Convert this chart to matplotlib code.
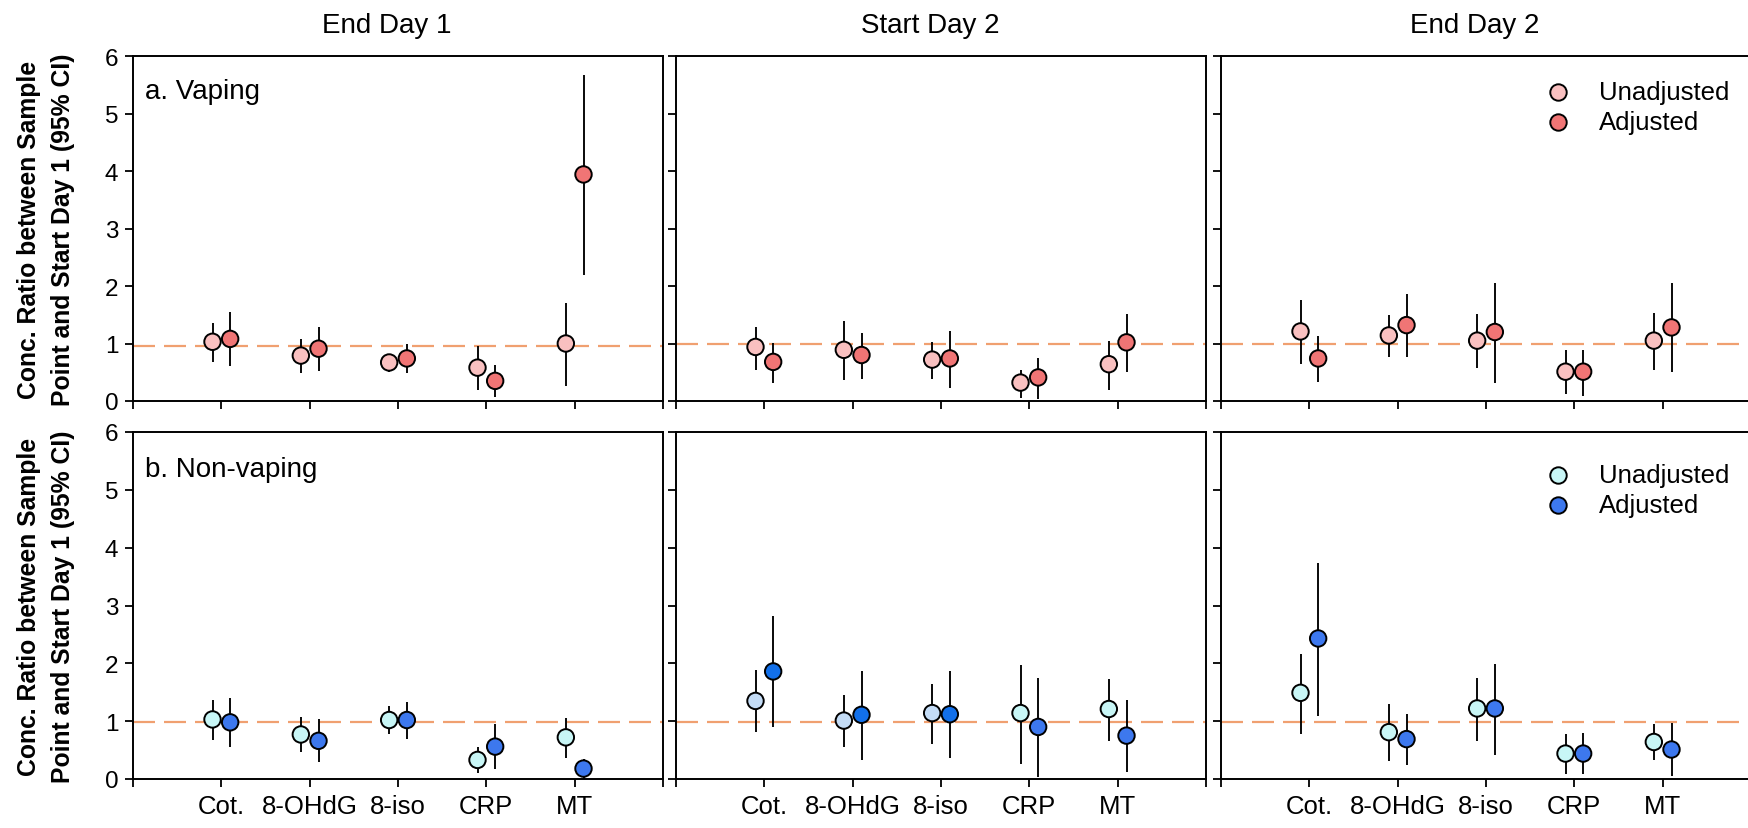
import numpy as np
import matplotlib.pyplot as plt

plt.rcParams['font.family'] = ['Liberation Sans', 'DejaVu Sans']

# categories and panels
biomarkers = ['Cot.', '8-OHdG', '8-iso', 'CRP', 'MT']
timepoints = ['End Day 1', 'Start Day 2', 'End Day 2']
row_labels = ['a. Vaping', 'b. Non-vaping']

# vaping group: one list per time point (End Day 1, Start Day 2, End Day 2)
vap_unadj = [[1.03, 0.79, 0.67, 0.58, 1.00],
             [0.94, 0.89, 0.72, 0.32, 0.64],
             [1.21, 1.14, 1.05, 0.51, 1.05]]
vap_unadj_lo = [[0.68, 0.48, 0.50, 0.19, 0.26],
                [0.54, 0.37, 0.38, 0.06, 0.20],
                [0.65, 0.77, 0.58, 0.12, 0.54]]
vap_unadj_hi = [[1.35, 1.08, 0.81, 0.96, 1.71],
                [1.29, 1.39, 1.03, 0.54, 1.05],
                [1.76, 1.49, 1.51, 0.88, 1.53]]
vap_adj = [[1.08, 0.91, 0.74, 0.35, 3.94],
           [0.68, 0.80, 0.74, 0.41, 1.02],
           [0.74, 1.32, 1.20, 0.51, 1.28]]
vap_adj_lo = [[0.61, 0.53, 0.48, 0.07, 2.20],
              [0.32, 0.39, 0.23, 0.03, 0.50],
              [0.33, 0.77, 0.32, 0.09, 0.50]]
vap_adj_hi = [[1.54, 1.28, 1.00, 0.63, 5.67],
              [1.01, 1.18, 1.21, 0.75, 1.51],
              [1.13, 1.86, 2.05, 0.89, 2.05]]

# non-vaping group
non_unadj = [[1.03, 0.77, 1.02, 0.33, 0.72],
             [1.35, 1.01, 1.14, 1.14, 1.21],
             [1.49, 0.81, 1.22, 0.44, 0.64]]
non_unadj_lo = [[0.68, 0.46, 0.78, 0.10, 0.36],
                [0.81, 0.55, 0.61, 0.26, 0.65],
                [0.78, 0.31, 0.66, 0.09, 0.33]]
non_unadj_hi = [[1.36, 1.07, 1.26, 0.56, 1.05],
                [1.89, 1.46, 1.65, 1.97, 1.73],
                [2.16, 1.30, 1.75, 0.77, 0.95]]
non_adj = [[0.98, 0.66, 1.02, 0.56, 0.18],
           [1.86, 1.11, 1.12, 0.90, 0.75],
           [2.43, 0.69, 1.22, 0.44, 0.51]]
non_adj_lo = [[0.56, 0.29, 0.69, 0.17, 0.00],
              [0.90, 0.33, 0.36, 0.03, 0.12],
              [1.09, 0.25, 0.42, 0.09, 0.06]]
non_adj_hi = [[1.40, 1.03, 1.34, 0.95, 0.35],
              [2.81, 1.87, 1.86, 1.75, 1.37],
              [3.74, 1.12, 1.98, 0.79, 0.97]]

# reference (no change) line per panel
ref_line = [[0.96, 1.0, 1.0],
            [0.98, 0.98, 0.98]]

groups = [
    (vap_unadj, vap_unadj_lo, vap_unadj_hi, vap_adj, vap_adj_lo, vap_adj_hi),
    (non_unadj, non_unadj_lo, non_unadj_hi, non_adj, non_adj_lo, non_adj_hi),
]
colors = [('#F9C0C0', '#F07575'), ('#C8F6F6', '#3D78EE')]
# start day 2 non-vaping panel uses slightly different blues for first three markers
alt_colors = ('#C4DCF6', '#1270EA')

W, H = 1748, 829
fig = plt.figure(figsize=(W / 100, H / 100), dpi=100)

lefts = [133, 676, 1221]
pw = 530
rows = [(57, 402), (433, 780)]
msize = 140

x = np.arange(1, len(biomarkers) + 1)
for r, (top, bot) in enumerate(rows):
    um, ulo, uhi, am, alo, ahi = groups[r]
    for c, left in enumerate(lefts):
        ax = fig.add_axes([left / W, 1 - bot / H, pw / W, (bot - top) / H])
        ax.axhline(ref_line[r][c], color='#F0A070', lw=1.6, dashes=(9.9, 4.05), zorder=1)

        uc = [colors[r][0]] * 5
        ac = [colors[r][1]] * 5
        if r == 1 and c == 1:
            uc[:3] = [alt_colors[0]] * 3
            ac[:3] = [alt_colors[1]] * 3

        xu = x - 0.1
        xa = x + 0.1
        u = np.array(um[c]); a = np.array(am[c])
        ax.errorbar(xu, u, yerr=[u - np.array(ulo[c]), np.array(uhi[c]) - u],
                    fmt='none', ecolor='black', elinewidth=1.35, capsize=0, zorder=2)
        ax.errorbar(xa, a, yerr=[a - np.array(alo[c]), np.array(ahi[c]) - a],
                    fmt='none', ecolor='black', elinewidth=1.35, capsize=0, zorder=2)
        ax.scatter(xu, u, s=msize, c=uc, edgecolors='black', linewidths=1.4, zorder=3)
        ax.scatter(xa, a, s=msize, c=ac, edgecolors='black', linewidths=1.4, zorder=3)

        ax.set_xlim(0, 6)
        ax.set_ylim(0, 6)
        ax.set_xticks(range(7))
        ax.set_yticks(range(7))
        if r == 1:
            ax.set_xticklabels([''] + biomarkers + [''], fontsize=18.5)
        else:
            ax.set_xticklabels([])
        if c == 0:
            ax.set_yticklabels([str(v) for v in range(7)], fontsize=17.5)
        else:
            ax.set_yticklabels([])
        ax.tick_params(direction='out', length=5.5, width=1.3, pad=5)
        for s in ax.spines.values():
            s.set_linewidth(1.4)

        if c == 0:
            ax.text(0.023, 0.90 if r == 0 else 0.893, row_labels[r],
                    transform=ax.transAxes, fontsize=20, va='center', ha='left')
        if c == 2:
            h1 = ax.scatter([], [], s=msize, c=colors[r][0], edgecolors='black', linewidths=1.4)
            h2 = ax.scatter([], [], s=msize, c=colors[r][1], edgecolors='black', linewidths=1.4)
            ax.legend([h1, h2], ['Unadjusted', 'Adjusted'], loc='upper left',
                      bbox_to_anchor=(0.612, 0.93 if r == 0 else 0.91),
                      frameon=False, fontsize=18.5, handlelength=1.0,
                      handletextpad=1.1, labelspacing=0.22, borderpad=0,
                      borderaxespad=0)
        if r == 0:
            fig.text((left + pw / 2 - 11) / W, 1 - 26 / H, timepoints[c],
                     fontsize=20, ha='center', va='center')

    fig.text(46 / W, 1 - ((top + bot) / 2) / H,
             'Conc. Ratio between Sample\nPoint and Start Day 1 (95% CI)',
             rotation=90, fontsize=17.8, fontweight='bold', ha='center', va='center',
             linespacing=1.55)

fig.savefig('out.png', dpi=100)
